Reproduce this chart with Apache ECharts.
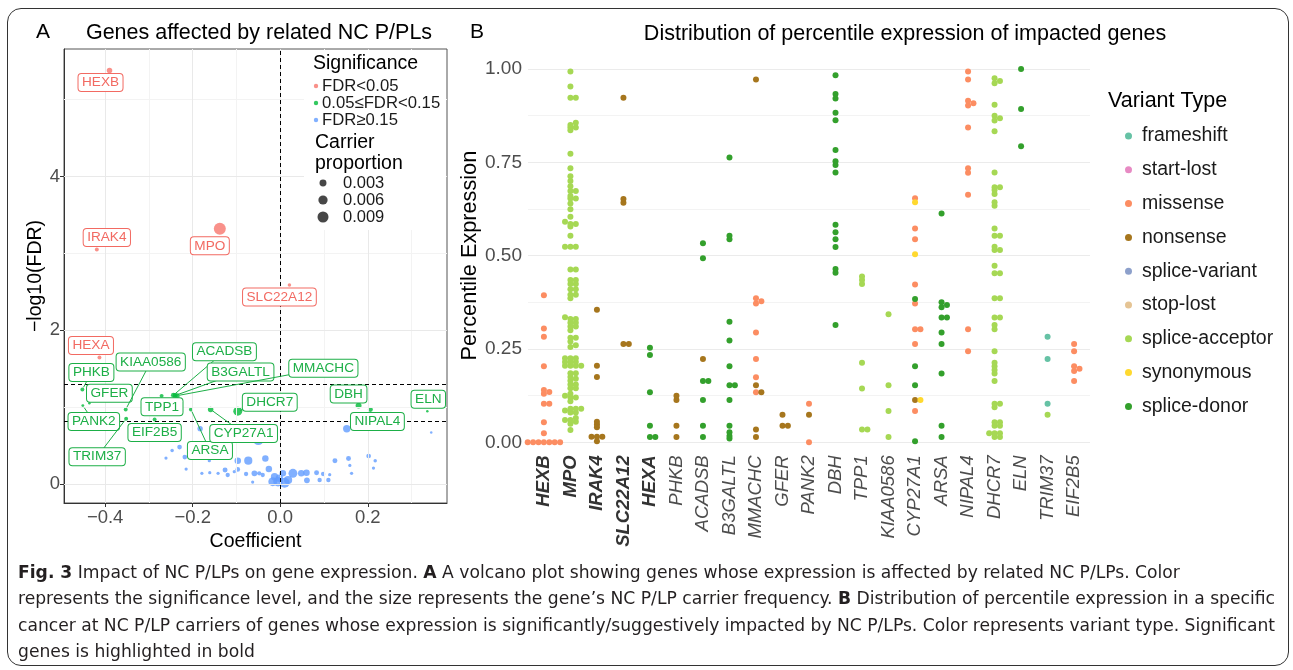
<!DOCTYPE html>
<html><head><meta charset="utf-8">
<script src="https://cdn.jsdelivr.net/npm/echarts@6/dist/echarts.min.js"></script>
<style>
html,body{margin:0;padding:0;background:#fff;}
#chart{position:absolute;left:0;top:0;width:1293px;height:670px;}
#frame{position:absolute;left:7px;top:8px;width:1280px;height:656px;border:1.5px solid #333;border-radius:14px;pointer-events:none;}
#cap{position:absolute;left:18px;top:559px;font-family:'Liberation Sans Narrow','DejaVu Sans Condensed','Liberation Sans',sans-serif;font-size:18px;line-height:26.3px;color:#231f20;white-space:nowrap;}
#cap .ln{height:26.3px;}
#cap .ln span{display:inline-block;transform-origin:0 50%;}
</style></head><body>
<div id="chart"></div>
<div id="frame"></div>
<div id="cap">
<div class="ln"><span><b>Fig. 3</b> Impact of NC P/LPs on gene expression. <b>A</b> A volcano plot showing genes whose expression is affected by related NC P/LPs. Color</span></div>
<div class="ln"><span>represents the significance level, and the size represents the gene’s NC P/LP carrier frequency. <b>B</b> Distribution of percentile expression in a specific</span></div>
<div class="ln"><span>cancer at NC P/LP carriers of genes whose expression is significantly/suggestively impacted by NC P/LPs. Color represents variant type. Significant</span></div>
<div class="ln"><span>genes is highlighted in bold</span></div>
</div>
<script>
// ---------------- Panel A data (volcano) ----------------
const volcanoGenes = ['HEXB','IRAK4','MPO','SLC22A12','HEXA','PHKB','GFER','PANK2','KIAA0586','TRIM37','EIF2B5','TPP1','ACADSB','B3GALTL','MMACHC','ARSA','CYP27A1','DHCR7','DBH','NIPAL4','ELN'];
const volcanoCoef = [-0.390,-0.419,-0.138,0.021,-0.413,-0.452,-0.436,-0.451,-0.353,-0.352,-0.287,-0.271,-0.244,-0.240,-0.235,-0.204,-0.159,-0.097,0.179,0.206,0.336];
const volcanoNegLogFDR = [5.38,3.05,3.32,2.59,1.645,1.23,1.05,1.02,0.97,0.85,0.84,1.147,1.156,1.152,1.15,0.97,0.97,0.948,1.02,0.97,0.948];
const volcanoCarrier = [0.0016,0.0006,0.011,0.0004,0.0006,0.0006,0.0001,0.0002,0.0006,0.0006,0.0006,0.0006,0.0012,0.0012,0.0012,0.0006,0.0016,0.0056,0.002,0.0012,0.0001];

const bgCoef = [0.152,0.345,-0.183,-0.050,-0.230,-0.247,-0.261,-0.218,-0.097,-0.073,-0.034,-0.162,0.125,0.156,0.202,0.217,0.159,0.213,-0.215,-0.126,-0.097,-0.026,-0.179,-0.161,-0.142,-0.120,-0.078,-0.059,-0.048,-0.040,0.029,0.048,0.060,0.083,0.098,0.113,0.061,0.090,0.110,0.163,-0.017,-0.005,0.010,0.018,-0.013,-0.063,0.006,-0.002,-0.105];
const bgNegLogFDR = [0.72,0.67,0.72,0.571,0.48,0.437,0.338,0.35,0.303,0.303,0.333,0.303,0.303,0.333,0.364,0.303,0.242,0.208,0.195,0.182,0.19,0.195,0.139,0.147,0.139,0.117,0.13,0.139,0.139,0.117,0.139,0.139,0.147,0.147,0.13,0.121,0.048,0.052,0.052,0.139,0.03,0.03,0.017,0.052,0.095,0.026,0.139,0.074,0.16];
const bgCarrier = [0.0035,0.0001,0.0015,0.0072,0.001,0.0004,0.0003,0.001,0.0025,0.0045,0.0025,0.0003,0.0012,0.0012,0.001,0.0004,0.0003,0.0003,0.0003,0.0012,0.001,0.0025,0.0003,0.0003,0.0003,0.0008,0.0008,0.0018,0.0008,0.0008,0.0055,0.0025,0.0025,0.0012,0.0008,0.0003,0.0018,0.0008,0.0008,0.0003,0.0055,0.0065,0.0072,0.0045,0.0035,0.0003,0.0025,0.0035,0.0003];

const xTicksA = [-0.4,-0.2,0,0.2];
const xMinorA = [-0.3,-0.1,0.1,0.3];
const yTicksA = [0,2,4];
const yMinorA = [1,3,5];
const fdrLines = [1.301, 0.824];
const sigNames = ['FDR<0.05','0.05≤FDR<0.15','FDR≥0.15'];
const carrierLegend = [0.003,0.006,0.009];

// ---------------- Panel B data (percentile expression) ----------------
const exprGenes = ['HEXB','MPO','IRAK4','SLC22A12','HEXA','PHKB','ACADSB','B3GALTL','MMACHC','GFER','PANK2','DBH','TPP1','KIAA0586','CYP27A1','ARSA','NIPAL4','DHCR7','ELN','TRIM37','EIF2B5'];
const boldGenes = ['HEXB','MPO','IRAK4','SLC22A12','HEXA'];
const variantTypes = ['frameshift','start-lost','missense','nonsense','splice-variant','stop-lost','splice-acceptor','synonymous','splice-donor'];
const yTicksB = [0,0.25,0.5,0.75,1];

const frameshift = { TRIM37: [0.283,0.223,0.103] };
const startLost = {};
const missense = {
  HEXB: [0.394,0.305,0.283,0.204,0.14,0.135,0.13,0.103,0.103,0.054,0.024,0,0,0,0,0,0,0],
  MMACHC: [0.386,0.378,0.372,0.294,0.223,0.174,0.134],
  PANK2: [0.103,0],
  CYP27A1: [0.654,0.573,0.544,0.423,0.372,0.303,0.303,0.263,0.084],
  NIPAL4: [0.993,0.972,0.915,0.908,0.902,0.843,0.734,0.722,0.663,0.303,0.244],
  EIF2B5: [0.263,0.244,0.204,0.197,0.191,0.164]
};
const nonsense = {
  IRAK4: [0.355,0.205,0.175,0.055,0.048,0.04,0.015,0.015,0.015,0.003],
  SLC22A12: [0.923,0.652,0.642,0.263,0.263],
  PHKB: [0.125,0.113,0.044,0.014],
  ACADSB: [0.223],
  MMACHC: [0.972,0.153,0.134,0.034,0.014],
  GFER: [0.074,0.044,0.044],
  PANK2: [0.074],
  CYP27A1: [0.113]
};
const spliceVariant = {};
const stopLost = {};
const spliceAcceptor = {
  MPO: [0.993,0.953,0.923,0.923,0.856,0.85,0.843,0.843,0.836,0.773,0.734,0.713,0.70,0.686,0.673,0.673,0.66,0.653,0.653,0.64,0.624,0.604,0.591,0.585,0.585,0.578,0.553,0.524,0.524,0.524,0.463,0.463,0.435,0.435,0.424,0.424,0.41,0.41,0.395,0.395,0.386,0.335,0.33,0.33,0.32,0.32,0.31,0.31,0.30,0.28,0.28,0.27,0.26,0.255,0.225,0.225,0.225,0.215,0.215,0.215,0.205,0.205,0.205,0.205,0.185,0.185,0.175,0.17,0.165,0.155,0.155,0.145,0.145,0.13,0.125,0.12,0.12,0.11,0.09,0.09,0.09,0.085,0.08,0.08,0.065,0.06,0.06,0.055,0.05,0.033],
  TPP1: [0.444,0.435,0.424,0.213,0.144,0.034,0.034],
  KIAA0586: [0.343,0.153,0.084,0.014],
  DHCR7: [0.975,0.968,0.962,0.904,0.875,0.868,0.862,0.833,0.723,0.683,0.683,0.676,0.665,0.643,0.634,0.573,0.553,0.553,0.524,0.515,0.515,0.473,0.453,0.453,0.386,0.386,0.334,0.334,0.314,0.303,0.244,0.213,0.204,0.194,0.184,0.164,0.103,0.103,0.094,0.054,0.054,0.044,0.044,0.024,0.024,0.024,0.014,0.014],
  TRIM37: [0.074]
};
const synonymous = { CYP27A1: [0.643,0.504,0.113] };
const spliceDonor = {
  HEXA: [0.253,0.234,0.134,0.044,0.014,0.014],
  ACADSB: [0.533,0.493,0.164,0.164,0.113,0.044,0.014],
  B3GALTL: [0.763,0.553,0.544,0.323,0.273,0.204,0.153,0.153,0.113,0.044,0.027,0.017,0.01],
  DBH: [0.983,0.933,0.921,0.883,0.863,0.783,0.753,0.743,0.723,0.583,0.563,0.544,0.523,0.464,0.454,0.314],
  CYP27A1: [0.384,0.204,0.153,0.003],
  ARSA: [0.613,0.375,0.368,0.362,0.334,0.334,0.294,0.263,0.184,0.044,0.014],
  ELN: [1.0,0.893,0.793]
};
const variantData = [frameshift,startLost,missense,nonsense,spliceVariant,stopLost,spliceAcceptor,synonymous,spliceDonor];

// ---------------- styles ----------------
const FONT = 'Liberation Sans';
const sigColors = ['#F8766D','#00BA38','#619CFF'];
const sigLabelColors = ['#F26A62','#1DAF47','#619CFF'];
const variantColors = ['#66C2A5','#E78AC3','#FC8D62','#A6761D','#8DA0CB','#E5C494','#A6D854','#FFD92F','#33A02C'];
const labelOffsetA = {
  HEXB:[-9,12], IRAK4:[10,-12], MPO:[-10,17], SLC22A12:[-10,12], HEXA:[-8.5,-12],
  PHKB:[9,-17], GFER:[20,-10], PANK2:[11,16], KIAA0586:[25,-47.5], TRIM37:[-29,38],
  EIF2B5:[0,13], TPP1:[0.4,11], ACADSB:[51,-43.5], B3GALTL:[65.4,-23.6], MMACHC:[146,-27.3],
  ARSA:[19,41], CYP27A1:[33,24], DHCR7:[32,-9], DBH:[-10,-11.5], NIPAL4:[7,12], ELN:[1,-12]
};
const segmentGenes = ['PHKB','PANK2','KIAA0586','TRIM37','ACADSB','B3GALTL','MMACHC','ARSA','CYP27A1','DHCR7'];
const sizeFn = p => 1.5 + 100 * Math.sqrt(p);
const sigClass = y => y > fdrLines[0] ? 0 : (y > fdrLines[1] ? 1 : 2);

// ---------------- build panel A series data ----------------
const sigData = [[],[],[]];
volcanoGenes.forEach((g,i) => sigData[sigClass(volcanoNegLogFDR[i])].push([volcanoCoef[i], volcanoNegLogFDR[i], volcanoCarrier[i]]));
bgCoef.forEach((c,i) => sigData[sigClass(bgNegLogFDR[i])].push([c, bgNegLogFDR[i], bgCarrier[i]]));
const labelData = volcanoGenes.map((g,i) => [volcanoCoef[i], volcanoNegLogFDR[i], i]);

// ---------------- beeswarm layout for panel B ----------------
const GRID_B = {left:528, top:69, width:562, height:373.3};
const X_MIN_B = -0.6, X_MAX_B = exprGenes.length - 1 + 0.6;
const PX_PER_Y = GRID_B.height;
const PX_PER_X = GRID_B.width / (X_MAX_B - X_MIN_B);
const SX = 5.4, SY = 2.6;
const seriesPts = variantTypes.map(() => []);
exprGenes.forEach((g, gi) => {
  const pts = [];
  variantData.forEach((obj, ti) => (obj[g] || []).forEach(v => pts.push({v, ti})));
  pts.sort((a,b) => a.v - b.v);
  const placed = [];
  pts.forEach(p => {
    const y = p.v * PX_PER_Y;
    let dx = 0;
    for (let k = 0; k < 60; k++) {
      const c = k === 0 ? 0 : (k % 2 === 1 ? Math.ceil(k/2) * SX : -Math.ceil(k/2) * SX);
      if (placed.every(q => ((c - q.x)/SX)**2 + ((y - q.y)/SY)**2 >= 0.999)) { dx = c; break; }
    }
    placed.push({x: dx, y});
    seriesPts[p.ti].push([gi + dx / PX_PER_X, p.v]);
  });
});

// ---------------- option ----------------
const fmtA = v => (v === 0 ? '0.0' : v.toFixed(1)).replace('-', '\u2212');
const gridLinesA = [];
xMinorA.forEach(v => gridLinesA.push({xAxis: v, lineStyle:{color:'#f3f3f3', width:1, type:'solid'}}));
yMinorA.forEach(v => gridLinesA.push({yAxis: v, lineStyle:{color:'#f3f3f3', width:1, type:'solid'}}));
xTicksA.forEach(v => gridLinesA.push({xAxis: v, lineStyle:{color:'#e9e9e9', width:1, type:'solid'}}));
yTicksA.forEach(v => gridLinesA.push({yAxis: v, lineStyle:{color:'#e9e9e9', width:1, type:'solid'}}));
const dashLinesA = [{xAxis: 0}].concat(fdrLines.map(v => ({yAxis: v})));

const series = [
  { type:'scatter', xAxisIndex:0, yAxisIndex:0, data:[], z:1, silent:true,
    markLine:{silent:true, symbol:['none','none'], label:{show:false}, animation:false, data:gridLinesA} },
  { type:'scatter', xAxisIndex:0, yAxisIndex:0, data:[], z:1.5, silent:true,
    markLine:{silent:true, symbol:['none','none'], label:{show:false}, animation:false,
      lineStyle:{color:'#000', width:1, type:[4,3]}, data:dashLinesA} }
];
[2,1,0].forEach(k => series.push({
  type:'scatter', xAxisIndex:0, yAxisIndex:0, data:sigData[k], z:3, silent:true, clip:false,
  symbolSize: d => sizeFn(d[2]),
  itemStyle:{color:sigColors[k], opacity:0.8}
}));
series.push({
  type:'custom', xAxisIndex:0, yAxisIndex:0, data:labelData, z:10, silent:true, clip:false,
  encode:{x:0, y:1},
  renderItem: function(params, api) {
    const idx = api.value(2);
    const g = volcanoGenes[idx];
    const p = api.coord([api.value(0), api.value(1)]);
    const off = labelOffsetA[g];
    const cx = p[0] + off[0], cy = p[1] + off[1];
    const col = sigLabelColors[sigClass(api.value(1))];
    const children = [];
    if (segmentGenes.indexOf(g) >= 0) {
      const dx = cx - p[0], dy = cy - p[1], L = Math.hypot(dx, dy), s = 2.5 / L;
      children.push({type:'line', shape:{x1:p[0]+dx*s, y1:p[1]+dy*s, x2:cx, y2:cy}, style:{stroke:col, lineWidth:1}});
    }
    children.push({type:'text', x:cx, y:cy, style:{text:g, fill:col, font:'13.6px "' + FONT + '"', align:'center', verticalAlign:'middle',
      backgroundColor:'#fff', borderColor:col, borderWidth:1, borderRadius:3, padding:[2,3.5,1,3.5]}});
    return {type:'group', children};
  }
});
variantTypes.forEach((t, ti) => series.push({
  name:t, type:'scatter', xAxisIndex:1, yAxisIndex:1, data:seriesPts[ti], z:3, silent:true, clip:false,
  symbolSize:6, itemStyle:{color:variantColors[ti], opacity:1}
}));

const graphic = [
  {type:'text', left:36, top:22, style:{text:'A', font:'21px "'+FONT+'"', fill:'#000'}},
  {type:'text', left:470, top:22, style:{text:'B', font:'21px "'+FONT+'"', fill:'#000'}},
  {type:'text', x:259, y:33, style:{text:'Genes affected by related NC P/PLs', font:'21.5px "'+FONT+'"', fill:'#000', align:'center', verticalAlign:'middle'}},
  {type:'text', x:905, y:34, style:{text:'Distribution of percentile expression of impacted genes', font:'21.5px "'+FONT+'"', fill:'#000', align:'center', verticalAlign:'middle'}},
  {type:'text', x:1108, y:101, style:{text:'Variant Type', font:'21.5px "'+FONT+'"', fill:'#000', verticalAlign:'middle'}},
  // panel A legend
  {type:'rect', z:50, shape:{x:304, y:50, width:142, height:180}, style:{fill:'#fff'}},
  {type:'text', z:51, x:313, y:64, style:{text:'Significance', font:'19.5px "'+FONT+'"', fill:'#000', verticalAlign:'middle'}},
  {type:'text', z:51, x:315, y:143, style:{text:'Carrier', font:'19.5px "'+FONT+'"', fill:'#000', verticalAlign:'middle'}},
  {type:'text', z:51, x:315, y:164, style:{text:'proportion', font:'19.5px "'+FONT+'"', fill:'#000', verticalAlign:'middle'}}
];
sigNames.forEach((n, k) => {
  const y = 86 + k * 17;
  graphic.push({type:'circle', z:51, shape:{cx:316, cy:y, r:2.2}, style:{fill:sigColors[k], opacity:0.8}});
  graphic.push({type:'text', z:51, x:322, y:y, style:{text:n, font:'16.7px "'+FONT+'"', fill:'#1a1a1a', verticalAlign:'middle'}});
});
carrierLegend.forEach((p, k) => {
  const y = 183 + k * 17;
  graphic.push({type:'circle', z:51, shape:{cx:323, cy:y, r:sizeFn(p)/2}, style:{fill:'#333', opacity:0.9}});
  graphic.push({type:'text', z:51, x:343, y:y, style:{text:String(p), font:'16.5px "'+FONT+'"', fill:'#1a1a1a', verticalAlign:'middle'}});
});

const option = {
  animation:false,
  backgroundColor:'#fff',
  textStyle:{fontFamily:FONT},
  grid:[
    {left:64, top:49, width:383, height:454, show:true, borderColor:'#555', borderWidth:1, backgroundColor:'transparent'},
    GRID_B
  ],
  xAxis:[
    {gridIndex:0, type:'value', min:-0.494, max:0.381,
      axisLine:{show:true, onZero:false, lineStyle:{color:'#333'}},
      axisTick:{show:true, length:4, customValues:xTicksA, lineStyle:{color:'#333'}},
      axisLabel:{customValues:xTicksA, formatter:fmtA, fontSize:18.5, color:'#4d4d4d', margin:5},
      splitLine:{show:false},
      name:'Coefficient', nameLocation:'middle', nameGap:12, nameTextStyle:{fontSize:19.5, color:'#000'}},
    {gridIndex:1, type:'value', min:X_MIN_B, max:X_MAX_B,
      axisLine:{show:false}, axisTick:{show:false}, splitLine:{show:false},
      axisLabel:{customValues:exprGenes.map((g,i)=>i), rotate:90, margin:13,
        formatter: v => { const g = exprGenes[Math.round(v)]; if (!g) return ''; return boldGenes.indexOf(g) >= 0 ? '{b|'+g+'}' : '{n|'+g+'}'; },
        rich:{ b:{fontSize:18.5, fontWeight:'bold', fontStyle:'italic', color:'#333', fontFamily:FONT},
               n:{fontSize:18.5, fontStyle:'italic', color:'#4d4d4d', fontFamily:FONT} } }}
  ],
  yAxis:[
    {gridIndex:0, type:'value', min:-0.247, max:5.66,
      axisLine:{show:true, onZero:false, lineStyle:{color:'#333'}},
      axisTick:{show:true, length:4, customValues:yTicksA, lineStyle:{color:'#333'}},
      axisLabel:{customValues:yTicksA, formatter:v=>String(v), fontSize:18.5, color:'#4d4d4d', margin:4},
      splitLine:{show:false},
      name:'\u2212log10(FDR)', nameLocation:'middle', nameGap:16, nameTextStyle:{fontSize:19.5, color:'#000'}},
    {gridIndex:1, type:'value', min:0, max:1, interval:0.25,
      axisLine:{show:false}, axisTick:{show:false},
      axisLabel:{customValues:yTicksB, formatter:v=>v.toFixed(2), fontSize:19, color:'#4d4d4d', margin:6},
      splitLine:{show:true, lineStyle:{color:'#ebebeb', width:1}},
      minorTick:{show:false, splitNumber:2},
      minorSplitLine:{show:true, lineStyle:{color:'#f3f3f3', width:1}},
      name:'Percentile Expression', nameLocation:'middle', nameGap:47, nameTextStyle:{fontSize:21.7, color:'#000'}}
  ],
  legend:{data:variantTypes, orient:'vertical', left:1120, top:121, icon:'circle', itemWidth:7, itemHeight:7, itemGap:13.8,
    selectedMode:false, textStyle:{fontSize:19.5, color:'#1a1a1a', lineHeight:20, padding:[0,0,0,5], fontFamily:FONT}},
  graphic: graphic,
  series: series
};

const chart = echarts.init(document.getElementById('chart'), null, {renderer:'canvas'});
chart.setOption(option);

// ---------------- caption fitting ----------------
(function(){
  const spans = document.querySelectorAll('#cap .ln span');
  const target = 1257;
  const w2 = spans[1].getBoundingClientRect().width;
  const base = target / w2;
  spans.forEach((s, i) => {
    const w = s.getBoundingClientRect().width;
    const k = (i === 1 || i === 2) ? target / w : base;
    s.style.transform = 'scaleX(' + k + ')';
  });
})();
</script>
</body></html>
